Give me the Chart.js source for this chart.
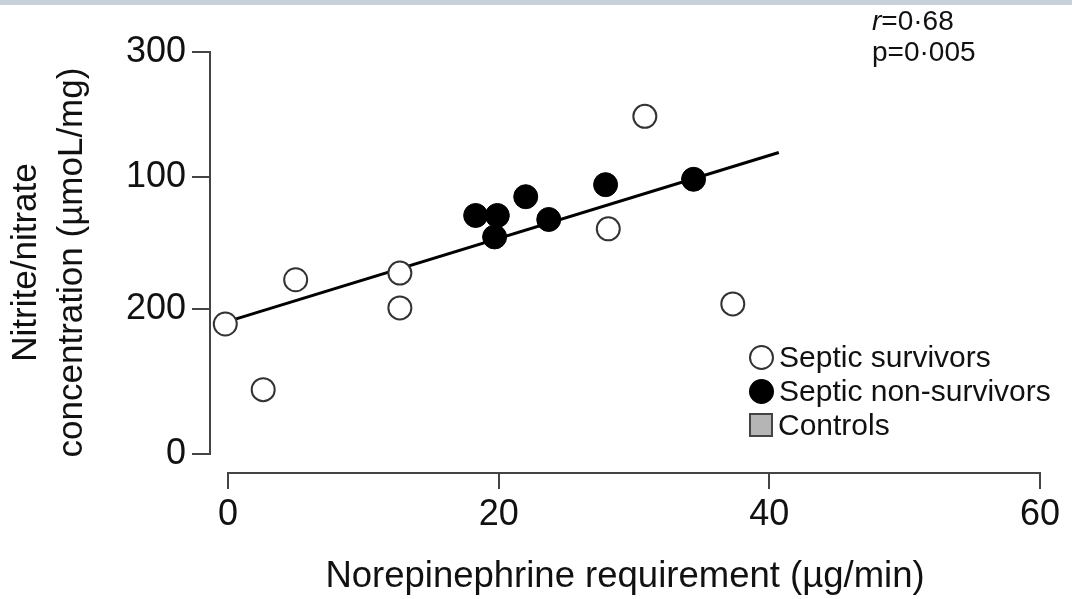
<!DOCTYPE html>
<html>
<head>
<meta charset="utf-8">
<script src="https://cdn.jsdelivr.net/npm/chart.js@4.4.1/dist/chart.umd.min.js"></script>
<style>
    body { margin: 0; background: #fff; }
    #wrap { position: relative; width: 1072px; height: 599px; overflow: hidden; }
    #chart { position: absolute; left: 0; top: 0; }
    .note {
        position: absolute; left: 872px; top: 5px;
        font: 28px "Liberation Sans", Arial, sans-serif; color: #111; line-height: 31px;
    }
    .legend {
        position: absolute; left: 749px; top: 340px;
        font: 30px "Liberation Sans", Arial, sans-serif; color: #111;
    }
    .legend-row { height: 34px; display: flex; align-items: center; }
    .mark { width: 25px; height: 25px; margin-right: 5px; box-sizing: border-box; }
    .mark.open { border: 2px solid #333; border-radius: 50%; background: #fff; }
    .mark.filled { border: 2px solid #000; border-radius: 50%; background: #000; }
    .mark.square { width: 24px; height: 24px; border: 2px solid #444; background: #b5b5b5; }
</style>
</head>
<body>
<div id="wrap">
    <canvas id="chart" width="1072" height="599"></canvas>
    <div class="note"><i>r</i>=0·68<br>p=0·005</div>
    <div class="legend" id="legend"></div>
</div>
<script>
// Septic survivors (open circles)
const survivorsX = [-0.2, 2.6, 5.0, 12.7, 12.7, 28.1, 30.8, 37.3];
const survivorsY = [97, 48, 130, 135, 109, 168, 252, 112];

// Septic non-survivors (filled circles)
const nonSurvivorsX = [18.3, 19.9, 19.7, 22.0, 23.7, 27.9, 34.4];
const nonSurvivorsY = [178, 178, 162, 192, 175, 201, 205];

// Regression line end points
const fitX = [0, 40.7];
const fitY = [99, 225];

// Axis ticks (y labels are printed in this order in the source figure)
const xTickValues = [0, 20, 40, 60];
const yTickValues = [0, 108, 207, 300];
const yTickLabels = ['0', '200', '100', '300'];

const legendItems = [
    { label: 'Septic survivors', cls: 'open' },
    { label: 'Septic non-survivors', cls: 'filled' },
    { label: 'Controls', cls: 'square' }
];

const toPoints = (xs, ys) => xs.map((x, i) => ({ x, y: ys[i] }));

Chart.defaults.font.family = '"Liberation Sans", Arial, sans-serif';
Chart.defaults.color = '#111';

// Top band plus the detached axis lines
const axisLines = {
    id: 'axisLines',
    beforeDraw(chart) {
        const ctx = chart.ctx;
        ctx.save();
        ctx.fillStyle = '#c9d1d8';
        ctx.fillRect(0, 0, chart.width, 5);
        ctx.restore();
    },
    afterDraw(chart) {
        const { ctx, chartArea, scales } = chart;
        ctx.save();
        ctx.strokeStyle = '#444';
        ctx.lineWidth = 2;
        ctx.beginPath();
        ctx.moveTo(chartArea.left, scales.y.getPixelForValue(0) + 1);
        ctx.lineTo(chartArea.left, scales.y.getPixelForValue(300) - 1);
        ctx.moveTo(scales.x.getPixelForValue(0) - 1, chartArea.bottom);
        ctx.lineTo(scales.x.getPixelForValue(60) + 1, chartArea.bottom);
        ctx.stroke();
        ctx.restore();
    }
};

new Chart(document.getElementById('chart'), {
    type: 'scatter',
    data: {
        datasets: [
            {
                label: 'Septic non-survivors',
                data: toPoints(nonSurvivorsX, nonSurvivorsY),
                backgroundColor: '#000',
                borderColor: '#000',
                borderWidth: 1,
                pointRadius: 12,
                order: 1
            },
            {
                label: 'Septic survivors',
                data: toPoints(survivorsX, survivorsY),
                backgroundColor: '#fff',
                borderColor: '#333',
                borderWidth: 2,
                pointRadius: 11.5,
                order: 2
            },
            {
                type: 'line',
                label: 'fit',
                data: toPoints(fitX, fitY),
                borderColor: '#000',
                borderWidth: 3,
                pointRadius: 0,
                fill: false,
                order: 3
            }
        ]
    },
    options: {
        responsive: false,
        animation: false,
        layout: { padding: { top: 52, right: 32, left: 0, bottom: 0 } },
        plugins: {
            legend: { display: false },
            tooltip: { enabled: false }
        },
        scales: {
            x: {
                type: 'linear',
                min: -1.33,
                max: 60,
                afterFit: (scale) => { scale.height = 126; },
                afterBuildTicks: (scale) => {
                    scale.ticks = xTickValues.map(v => ({ value: v }));
                },
                border: { display: false },
                grid: {
                    drawOnChartArea: false,
                    drawTicks: true,
                    tickLength: 16,
                    color: '#444',
                    lineWidth: 2
                },
                ticks: {
                    padding: 4,
                    color: '#111',
                    font: { size: 36 }
                },
                title: {
                    display: true,
                    text: 'Norepinephrine requirement (µg/min)',
                    color: '#111',
                    font: { size: 36.5 },
                    padding: { top: 0, bottom: 0 }
                }
            },
            y: {
                type: 'linear',
                min: -14.2,
                max: 300,
                afterFit: (scale) => { scale.width = 210; },
                afterBuildTicks: (scale) => {
                    scale.ticks = yTickValues.map(v => ({ value: v }));
                },
                border: { display: false },
                grid: {
                    drawOnChartArea: false,
                    drawTicks: true,
                    tickLength: 18,
                    color: '#444',
                    lineWidth: 2
                },
                ticks: {
                    padding: 6,
                    color: '#111',
                    font: { size: 36 },
                    callback: (value, index) => yTickLabels[index]
                },
                title: {
                    display: true,
                    text: ['Nitrite/nitrate', 'concentration (µmoL/mg)'],
                    color: '#111',
                    font: { size: 35, lineHeight: 1.3 },
                    padding: { top: 4, bottom: 0 }
                }
            }
        }
    },
    plugins: [axisLines]
});

// HTML legend
document.getElementById('legend').innerHTML = legendItems.map(item => `
    <div class="legend-row">
        <div class="mark ${item.cls}"></div>
        <span>${item.label}</span>
    </div>
`).join('');
</script>
</body>
</html>
